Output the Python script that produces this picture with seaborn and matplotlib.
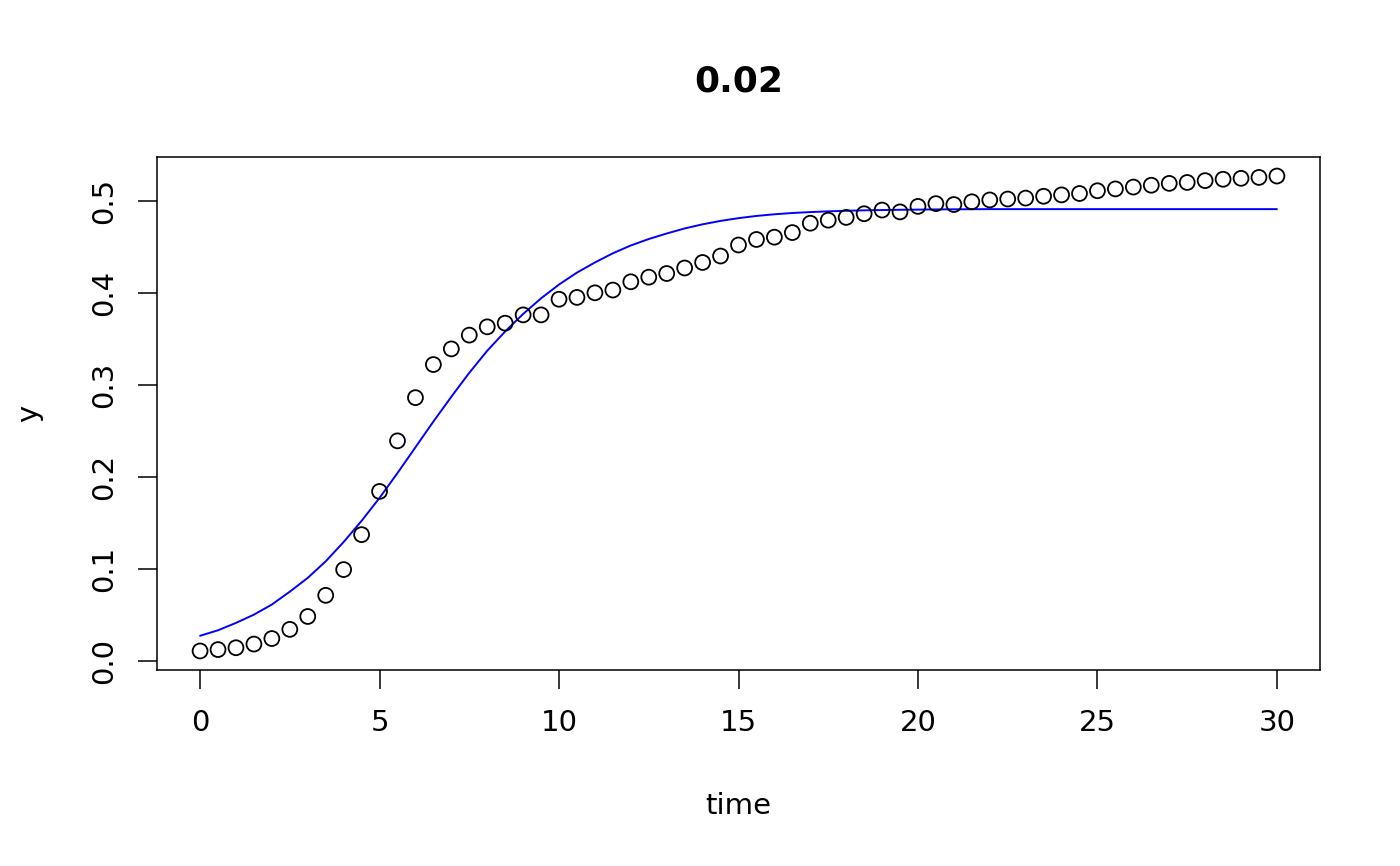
import numpy as np
import pandas as pd
import matplotlib
matplotlib.use("Agg")
import matplotlib.pyplot as plt
import seaborn as sns

time = [0, 0.5, 1, 1.5, 2, 2.5, 3, 3.5, 4, 4.5, 5, 5.5, 6, 6.5, 7, 7.5, 8, 8.5, 9, 9.5,
        10, 10.5, 11, 11.5, 12, 12.5, 13, 13.5, 14, 14.5, 15, 15.5, 16, 16.5, 17, 17.5,
        18, 18.5, 19, 19.5, 20, 20.5, 21, 21.5, 22, 22.5, 23, 23.5, 24, 24.5, 25, 25.5,
        26, 26.5, 27, 27.5, 28, 28.5, 29, 29.5, 30]
y_obs = [0.0105, 0.012, 0.014, 0.018, 0.024, 0.034, 0.048, 0.071, 0.099, 0.137,
         0.184, 0.239, 0.286, 0.322, 0.339, 0.354, 0.363, 0.367, 0.376, 0.376,
         0.393, 0.395, 0.400, 0.403, 0.412, 0.417, 0.421, 0.427, 0.433, 0.440,
         0.452, 0.458, 0.4605, 0.4655, 0.4757, 0.479, 0.482, 0.486, 0.490, 0.488,
         0.494, 0.497, 0.496, 0.499, 0.501, 0.502, 0.503, 0.505, 0.5065, 0.508,
         0.511, 0.513, 0.515, 0.517, 0.519, 0.520, 0.522, 0.5235, 0.5245, 0.5255,
         0.527]

y_fit = [0.027, 0.033, 0.041, 0.050, 0.061, 0.075, 0.090, 0.108, 0.129, 0.152,
         0.177, 0.204, 0.232, 0.260, 0.287, 0.313, 0.337, 0.358, 0.377, 0.394,
         0.409, 0.422, 0.433, 0.443, 0.4515, 0.4585, 0.4645, 0.470, 0.4745, 0.4782,
         0.4812, 0.4836, 0.4854, 0.4868, 0.4878, 0.4886, 0.4892, 0.4897, 0.4900, 0.4903,
         0.4905, 0.4907, 0.4908, 0.4909, 0.491, 0.491, 0.491, 0.491, 0.491, 0.491,
         0.491, 0.491, 0.491, 0.491, 0.491, 0.491, 0.491, 0.491, 0.491, 0.491,
         0.491]

title = "0.02"
x_ticks = [0, 5, 10, 15, 20, 25, 30]
y_ticks = [0.0, 0.1, 0.2, 0.3, 0.4, 0.5]

df = pd.DataFrame({"time": time, "y": y_obs, "fit": y_fit})

sns.set_style("white")
plt.rcParams['font.family'] = ['DejaVu Sans']
plt.rcParams['text.color'] = 'black'
plt.rcParams['axes.labelcolor'] = 'black'
plt.rcParams['xtick.color'] = 'black'
plt.rcParams['ytick.color'] = 'black'

fig = plt.figure(figsize=(14, 8.66), dpi=100)
ax = fig.add_axes([157/1400, 1 - 670/866, 1163/1400, 513/866])

sns.scatterplot(data=df, x="time", y="y", ax=ax, marker="o", s=115,
                facecolors="none", edgecolor="black", linewidth=1.3, zorder=3)
sns.lineplot(data=df, x="time", y="fit", ax=ax, color="#0000FF", linewidth=1.4,
             zorder=2)

ax.set_xlim(-1.2, 31.2)
ax.set_ylim(-0.0102, 0.5477)
ax.set_xticks(x_ticks)
ax.set_xticklabels([str(v) for v in x_ticks])
ax.set_yticks(y_ticks)
ax.set_yticklabels([f"{v:.1f}" for v in y_ticks])

for sp in ax.spines.values():
    sp.set_color("black")
    sp.set_linewidth(1.1)

ax.tick_params(axis="both", direction="out", length=14, width=1.1, colors="black",
               labelsize=21, pad=14, left=True, bottom=True)
ax.tick_params(axis="y", labelrotation=90)
for lab in ax.get_yticklabels():
    lab.set_va("center")

ax.set_xlabel("time", fontsize=21, color="black")
ax.xaxis.label.set_va("center")
ax.xaxis.set_label_coords(0.5, -(806 - 670) / 513)
ax.set_ylabel("y", fontsize=21, color="black")
ax.yaxis.label.set_va("center")
ax.yaxis.set_label_coords(-(157 - 29) / 1163, 0.5)

ax.set_title(title, fontsize=26, fontweight="bold", color="black",
             y=1 + (157 - 90) / 513, va="center")

fig.savefig("out.png", dpi=100)
